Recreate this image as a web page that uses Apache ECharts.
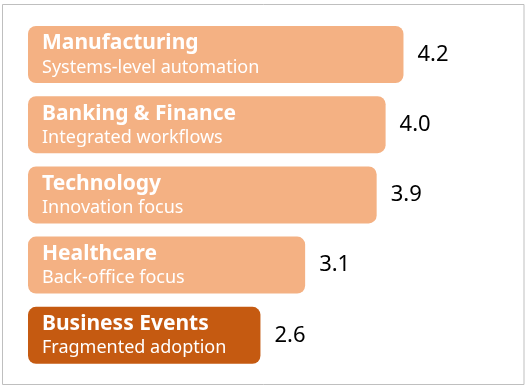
<!DOCTYPE html>
<html>
<head>
<meta charset="utf-8">
<script src="https://cdn.jsdelivr.net/npm/echarts@6/dist/echarts.min.js"></script>
<style>
html,body{margin:0;padding:0;background:#fff;}
#chart{width:529px;height:388px;}
</style>
</head>
<body>
<div id="chart"></div>
<script>
var categories = ['Manufacturing', 'Banking & Finance', 'Technology', 'Healthcare', 'Business Events'];
var subtitles = ['Systems-level automation', 'Integrated workflows', 'Innovation focus', 'Back-office focus', 'Fragmented adoption'];
var scores = [4.2, 4.0, 3.9, 3.1, 2.6];
var highlight = [false, false, false, false, true];

var LIGHT = '#F4B183', DARK = '#C55A11';
var FONT = '"Noto Sans", sans-serif';

var chart = echarts.init(document.getElementById('chart'), null, {renderer: 'canvas'});
var barData = scores.map(function (v, i) {
  return {value: v, itemStyle: {color: highlight[i] ? DARK : LIGHT}};
});
chart.setOption({
  animation: false,
  graphic: [{
    type: 'rect', silent: true,
    shape: {x: 2.5, y: 4.5, width: 521.5, height: 380},
    style: {fill: 'none', stroke: '#BFBFBF', lineWidth: 1}
  }],
  grid: {left: 28, right: 54, top: 19.4, bottom: 17.6, containLabel: false},
  xAxis: {type: 'value', min: 0, max: 5, show: false},
  yAxis: {type: 'category', data: categories, inverse: true, show: false},
  series: [{
    type: 'bar',
    data: barData,
    barWidth: 57,
    itemStyle: {borderRadius: 8},
    label: {
      show: true,
      position: 'insideLeft',
      distance: 14,
      formatter: function (p) {
        return '{t|' + categories[p.dataIndex] + '}\n{s|' + subtitles[p.dataIndex] + '}';
      },
      rich: {
        t: {fontFamily: FONT, fontWeight: 'bold', fontSize: 21, color: '#fff', lineHeight: 26},
        s: {fontFamily: FONT, fontSize: 18, color: '#fff', lineHeight: 22}
      }
    }
  }, {
    type: 'bar',
    data: scores,
    barWidth: 57,
    barGap: '-100%',
    itemStyle: {color: 'rgba(0,0,0,0)'},
    silent: true,
    label: {
      show: true,
      position: 'right',
      distance: 14,
      fontFamily: FONT,
      fontSize: 22,
      color: '#000',
      formatter: function (p) { return p.value.toFixed(1); }
    }
  }]
});
</script>
</body>
</html>
